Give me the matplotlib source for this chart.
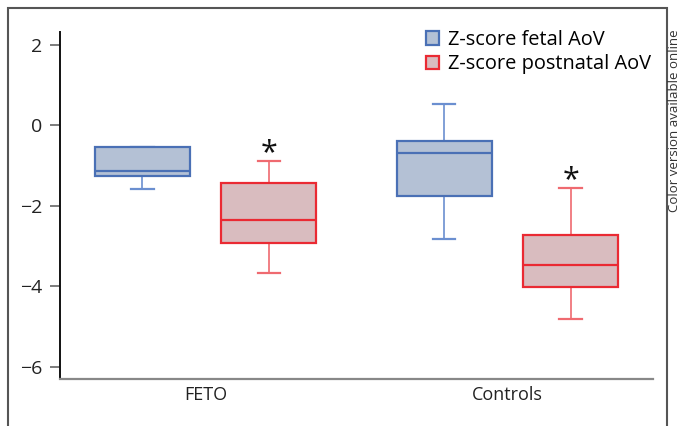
import matplotlib
matplotlib.use("Agg")
import matplotlib.pyplot as plt
from matplotlib.patches import Patch, Rectangle

plt.rcParams['font.family'] = ['Open Sans', 'DejaVu Sans']

groups = ["FETO", "Controls"]
series = ["Z-score fetal AoV", "Z-score postnatal AoV"]
# per series: values for [FETO, Controls]
fetal_whislo = [-1.58, -2.84]
fetal_q1 = [-1.26, -1.77]
fetal_med = [-1.13, -0.69]
fetal_q3 = [-0.54, -0.40]
fetal_whishi = [-0.54, 0.52]

post_whislo = [-3.68, -4.82]
post_q1 = [-2.92, -4.02]
post_med = [-2.35, -3.47]
post_q3 = [-1.44, -2.72]
post_whishi = [-0.89, -1.56]

significant = [True, True]  # postnatal marked with *
yticks = [2, 0, -2, -4, -6]

blue_edge = "#4a70b5"
blue_fill = "#b4c1d5"
blue_wh = "#6b8fd0"
red_edge = "#ea2a33"
red_fill = "#d9bcbf"
red_wh = "#ef6a70"

fig = plt.figure(figsize=(6.81, 4.26), dpi=100)
ax = fig.add_axes([60/681, 1-379/426, (653-60)/681, (379-32)/426])

offset = 0.21
width = 0.315


def stats(lo, q1, med, q3, hi):
    return [dict(whislo=a, q1=b, med=c, q3=d, whishi=e, fliers=[])
            for a, b, c, d, e in zip(lo, q1, med, q3, hi)]


centers = [1, 2]
for st, off, ec, fc, wc in [
        (stats(fetal_whislo, fetal_q1, fetal_med, fetal_q3, fetal_whishi), -offset, blue_edge, blue_fill, blue_wh),
        (stats(post_whislo, post_q1, post_med, post_q3, post_whishi), offset, red_edge, red_fill, red_wh)]:
    ax.bxp(st, positions=[c + off for c in centers], widths=width, patch_artist=True,
           showfliers=False, manage_ticks=False,
           boxprops=dict(facecolor=fc, edgecolor=ec, linewidth=1.6, zorder=3),
           medianprops=dict(color=ec, linewidth=1.6, zorder=4),
           whiskerprops=dict(color=wc, linewidth=1.2, zorder=2),
           capprops=dict(color=wc, linewidth=1.6, zorder=2),
           capwidths=width * 0.24)

for c, hi, sig in zip(centers, post_whishi, significant):
    if sig:
        ax.annotate("*", xy=(c + offset, hi), xytext=(0, -5), textcoords='offset points',
                    ha='center', va='bottom', fontsize=22, color='#111111')

ax.set_xlim(0.518, 2.482)
ax.set_ylim(-6.31, 2.32)
ax.set_xticks(centers)
ax.set_xticklabels(groups, fontsize=13, color='#222222')
ax.set_yticks(yticks)
ax.set_yticklabels([str(t).replace('-', '\u2212') for t in yticks], fontsize=14, color='#222222')
ax.tick_params(axis='y', length=7, width=1.2, color='#666666', pad=6)
ax.tick_params(axis='x', length=0, pad=5)
for s in ['top', 'right']:
    ax.spines[s].set_visible(False)
ax.spines['left'].set_color('#111111')
ax.spines['left'].set_linewidth(1.4)
ax.spines['bottom'].set_color('#888888')
ax.spines['bottom'].set_linewidth(1.6)

handles = [Patch(facecolor=blue_fill, edgecolor=blue_edge, linewidth=1.6),
           Patch(facecolor=red_fill, edgecolor=red_edge, linewidth=1.6)]
fig.legend(handles, series, loc='upper left', bbox_to_anchor=(426/681, 1-30/426),
           frameon=False, fontsize=14.4, handlelength=0.65, handleheight=0.65,
           handletextpad=0.45, labelspacing=0.22, borderaxespad=0, borderpad=0)

# outer frame
fig.add_artist(Rectangle((7.5/681, -0.05), (667-7.5)/681, 1.05 - 7.5/426, transform=fig.transFigure,
                         fill=False, edgecolor='#555555', linewidth=1.5))
fig.text(674.5/681, 1-212/426, "Color version available online", rotation=90,
         ha='center', va='bottom', fontsize=9.5, color='#333333')

fig.savefig("out.png", dpi=100)
